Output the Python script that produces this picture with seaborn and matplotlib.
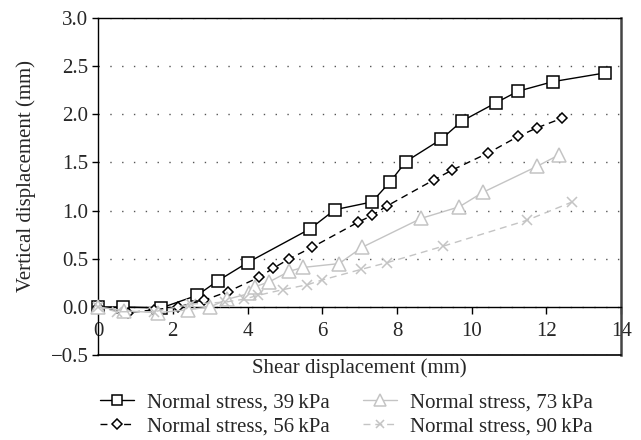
import matplotlib
matplotlib.use("Agg")
import matplotlib.pyplot as plt
import seaborn as sns
import pandas as pds

# shear displacement (mm) / vertical displacement (mm) per normal stress
x_39 = [0, 0.67, 1.69, 2.65, 3.2, 4.0, 5.67, 6.34, 7.33, 7.82, 8.24, 9.18, 9.74, 10.65, 11.24, 12.18, 13.57]
y_39 = [0, 0, -0.01, 0.12, 0.27, 0.46, 0.81, 1.01, 1.09, 1.3, 1.51, 1.74, 1.93, 2.12, 2.24, 2.34, 2.43]

x_56 = [0, 0.8, 1.5, 2.14, 2.84, 3.48, 4.32, 4.68, 5.12, 5.73, 6.96, 7.33, 7.74, 8.99, 9.47, 10.45, 11.24, 11.75, 12.42]
y_56 = [0, -0.06, -0.03, 0.0, 0.07, 0.16, 0.31, 0.4, 0.5, 0.62, 0.88, 0.95, 1.05, 1.32, 1.42, 1.6, 1.77, 1.86, 1.96]

x_73 = [0, 0.7, 1.6, 2.4, 3.0, 3.46, 4.05, 4.2, 4.58, 5.12, 5.48, 6.45, 7.07, 8.65, 9.67, 10.3, 11.75, 12.34]
y_73 = [0, -0.04, -0.06, -0.03, 0.0, 0.08, 0.14, 0.21, 0.26, 0.37, 0.41, 0.45, 0.62, 0.92, 1.04, 1.19, 1.46, 1.58]

x_90 = [0, 0.5, 1.5, 2.5, 3.4, 3.9, 4.28, 4.95, 5.6, 6.0, 7.04, 7.74, 9.23, 11.48, 12.69]
y_90 = [0, -0.05, -0.05, 0.03, 0.05, 0.08, 0.12, 0.18, 0.23, 0.28, 0.39, 0.46, 0.63, 0.9, 1.09]

labels = ["Normal stress, 39\u2009kPa", "Normal stress, 56\u2009kPa",
          "Normal stress, 73\u2009kPa", "Normal stress, 90\u2009kPa"]

FS = 15

sns.set_theme(style="white")
plt.rcParams['font.family'] = ['Liberation Serif', 'DejaVu Serif']
plt.rcParams['font.size'] = FS

fig = plt.figure(figsize=(6.41, 4.4), dpi=100)
ax = fig.add_axes([0.153, 0.193, 0.816, 0.766])

styles = [
    dict(color="black", marker="s", ms=8.5, ls="-"),
    dict(color="black", marker="D", ms=5.5, ls=(0, (5, 3.5))),
    dict(color="#c4c4c4", marker="^", ms=10, ls="-"),
    dict(color="#c4c4c4", marker="x", ms=7, ls=(0, (5, 3.5))),
]
series = [(x_39, y_39), (x_56, y_56), (x_73, y_73), (x_90, y_90)]
for (xs, ys), lab, st in zip(series, labels, styles):
    df = pds.DataFrame({"x": xs, "y": ys})
    sns.lineplot(data=df, x="x", y="y", ax=ax, sort=False, estimator=None,
                 color=st["color"], marker=st["marker"], markersize=st["ms"],
                 linestyle=st["ls"], linewidth=1, markerfacecolor="white",
                 markeredgecolor=st["color"], markeredgewidth=1.1, label=lab,
                 clip_on=False, zorder=3)

ax.set_xlim(0, 14)
ax.set_ylim(-0.5, 3.0)
ax.set_xticks(range(0, 15, 2))
ax.set_yticks([-0.5, 0, 0.5, 1.0, 1.5, 2.0, 2.5, 3.0])
ax.set_yticklabels(["\u22120.5", "0.0", "0.5", "1.0", "1.5", "2.0", "2.5", "3.0"])

ax.yaxis.grid(True, linestyle=(0, (1, 7.5)), color="#555555", linewidth=1)
ax.xaxis.grid(False)

ax.spines['bottom'].set_position(('data', 0))
for s in ['left', 'top', 'bottom']:
    ax.spines[s].set_color("black")
    ax.spines[s].set_linewidth(1)
ax.spines['right'].set_color("#444444")
ax.spines['right'].set_linewidth(1.8)
ax.axhline(-0.5, color="black", linewidth=1.2, clip_on=False, zorder=4)

ax.tick_params(axis='both', direction='out', length=4, width=1, color="black",
               labelsize=FS, bottom=True, left=True, pad=3)
ax.tick_params(axis='x', length=5, pad=6)

ax.set_xlabel("Shear displacement (mm)", fontsize=FS)
ax.set_ylabel("Vertical displacement (mm)", fontsize=FS)
ax.xaxis.set_label_coords(0.5, -0.008)
ax.yaxis.set_label_coords(-0.118, 0.53)

ax.get_legend().remove()
handles, labs = ax.get_legend_handles_labels()
fig.legend(handles, labs, ncol=2, loc="upper left",
           bbox_to_anchor=(100 / 641, 1 - 393 / 440),
           frameon=False, fontsize=FS, handlelength=1.65, handletextpad=0.6,
           columnspacing=1.6, labelspacing=0.2, borderaxespad=0, borderpad=0,
           markerscale=0.85)

fig.savefig("out.png", dpi=100)
